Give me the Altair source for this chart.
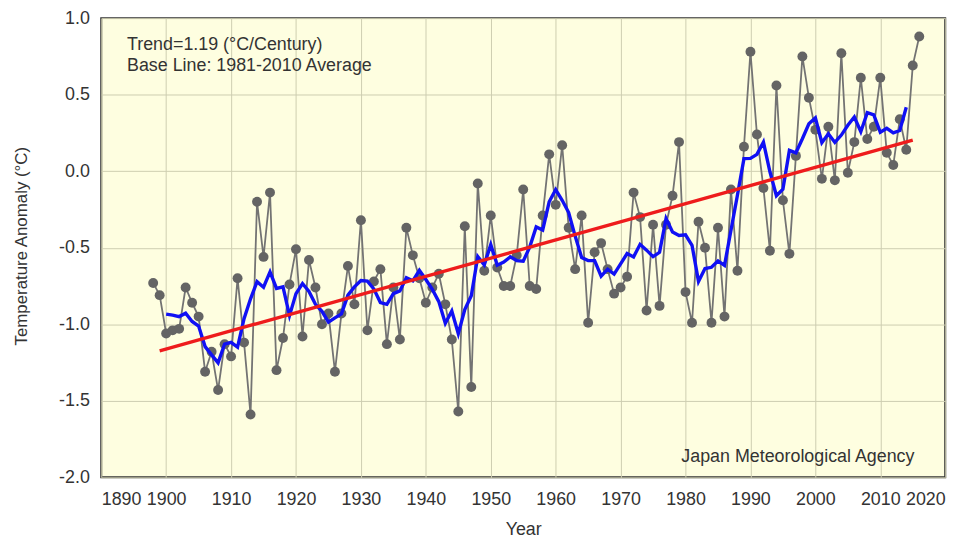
import altair as alt
import pandas as pd

years = list(range(1898, 2017))
anomaly = [
    -0.73, -0.81,                                                   # 1898-1899
    -1.06, -1.04, -1.03, -0.76, -0.86, -0.95, -1.31, -1.18, -1.43, -1.13,  # 1900s
    -1.21, -0.70, -1.12, -1.59, -0.20, -0.56, -0.14, -1.30, -1.09, -0.74,  # 1910s
    -0.51, -1.08, -0.58, -0.76, -1.00, -0.93, -1.31, -0.93, -0.62, -0.87,  # 1920s
    -0.32, -1.04, -0.72, -0.64, -1.13, -0.76, -1.10, -0.37, -0.55, -0.70,  # 1930s
    -0.86, -0.76, -0.67, -0.87, -1.10, -1.57, -0.36, -1.41, -0.08, -0.65,  # 1940s
    -0.29, -0.63, -0.75, -0.75, -0.55, -0.12, -0.75, -0.77, -0.29, 0.11,   # 1950s
    -0.22, 0.17, -0.37, -0.64, -0.29, -0.99, -0.53, -0.47, -0.64, -0.80,   # 1960s
    -0.76, -0.69, -0.14, -0.30, -0.91, -0.35, -0.88, -0.35, -0.16, 0.19,   # 1970s
    -0.79, -0.99, -0.33, -0.50, -0.99, -0.37, -0.95, -0.12, -0.65, 0.16,   # 1980s
    0.78, 0.24, -0.11, -0.52, 0.56, -0.19, -0.54, 0.10, 0.75, 0.48,        # 1990s
    0.27, -0.05, 0.29, -0.06, 0.77, -0.01, 0.19, 0.61, 0.21, 0.29,         # 2000s
    0.61, 0.12, 0.04, 0.34, 0.14, 0.69, 0.88,                              # 2010s
]

x_ticks = list(range(1890, 2021, 10))
y_ticks = [-2.0, -1.5, -1.0, -0.5, 0.0, 0.5, 1.0]
note_line1 = ["Trend=1.19 (°C/Century)"]
note_line2 = ["Base Line: 1981-2010 Average"]
credit = ["Japan Meteorological Agency"]

df = pd.DataFrame({"year": years, "anomaly": anomaly})

W, H = 851, 463
FONT = "Liberation Sans"

x_enc = alt.X(
    "year:Q",
    scale=alt.Scale(domain=[1890, 2020], nice=False, zero=False),
    axis=alt.Axis(
        values=x_ticks, format="d", title="Year", ticks=False, domain=False,
        labelPadding=13, labelFontSize=18, labelColor="#333",
        titleFontSize=18, titleFontWeight="normal", titleColor="#333",
        titleX=W / 2, titleY=58, titleBaseline="alphabetic",
        gridColor="#cdcdb0", gridWidth=1,
    ),
)
y_enc = alt.Y(
    "anomaly:Q",
    scale=alt.Scale(domain=[-2.0, 1.0], nice=False, zero=False),
    axis=alt.Axis(
        values=y_ticks, title="Temperature Anomaly (°C)",
        labelExpr="replace(format(datum.value, '.1f'), '\u2212', '-')",
        ticks=False, domain=False, labelPadding=12, labelFontSize=18,
        labelColor="#333", titleFontSize=17, titleFontWeight="normal",
        titleColor="#333", titleX=-75, titleY=H / 2 - 2, titleAngle=270,
        titleBaseline="alphabetic", titleAlign="center",
        gridColor="#cdcdb0", gridWidth=1,
    ),
)

base = alt.Chart(df)

gray_line = base.mark_line(color="#737373", strokeWidth=1.8).encode(x=x_enc, y=y_enc)
points = base.mark_circle(size=100, color="#646464", opacity=1).encode(x="year:Q", y="anomaly:Q")

running = (
    base.transform_window(ma="mean(anomaly)", frame=[-2, 2], sort=[{"field": "year"}])
    .transform_filter((alt.datum.year >= 1900) & (alt.datum.year <= 2014))
    .mark_line(color="#1010f4", strokeWidth=3.4)
    .encode(x="year:Q", y=alt.Y("ma:Q"))
)

trend = (
    base.transform_regression("year", "anomaly", extent=[1899, 2015])
    .mark_line(color="#ee1c1c", strokeWidth=3.4)
    .encode(x="year:Q", y="anomaly:Q")
)


def text_layer(lines, xpx, ypx, align):
    return (
        alt.Chart(pd.DataFrame({"t": lines}))
        .mark_text(align=align, baseline="alphabetic", fontSize=18, color="#333", font=FONT)
        .encode(x=alt.value(xpx), y=alt.value(ypx), text="t:N")
    )


notes1 = text_layer(note_line1, 26, 32, "left")
notes2 = text_layer(note_line2, 26, 53, "left")
credit_text = text_layer(credit, 820, 448, "right")

chart = (
    alt.layer(gray_line, points, running, trend, notes1, notes2, credit_text)
    .properties(
        width=W, height=H,
        autosize=alt.AutoSizeParams(type="none"),
        padding={"left": 94, "top": 8, "right": 26, "bottom": 60},
    )
    .configure(font=FONT, background="white")
    .configure_view(fill="#fefee0", stroke="#333333", strokeWidth=2)
)

chart.save("out.html", embed_options={"renderer": "svg", "actions": False})
